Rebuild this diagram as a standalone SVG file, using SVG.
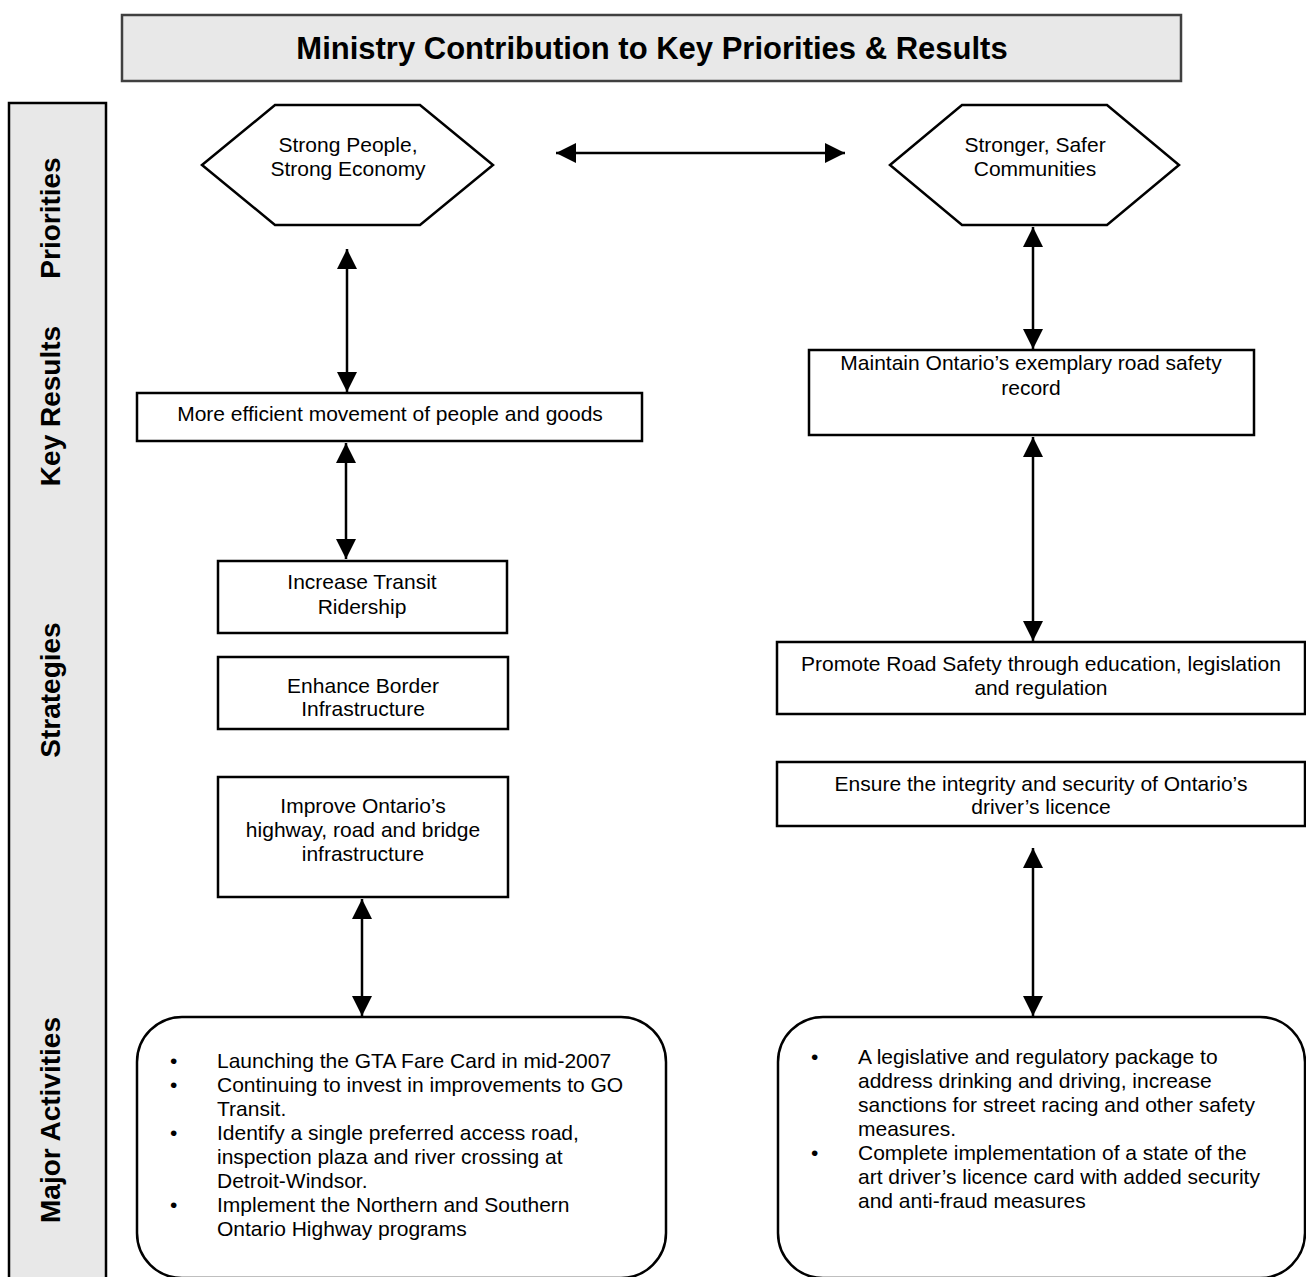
<svg xmlns="http://www.w3.org/2000/svg" width="1306" height="1277" viewBox="0 0 1306 1277">
<style>
.box{fill:#fff;stroke:#000;stroke-width:2.5}
.band{fill:#e8e8e8;stroke:#000;stroke-width:2.5}
.t{font-family:"Liberation Sans",Arial,sans-serif;font-size:21px;fill:#000}
.c{text-anchor:middle}
.lbl{font-family:"Liberation Sans",Arial,sans-serif;font-size:28px;font-weight:bold;fill:#000;text-anchor:middle}
.ttl{font-family:"Liberation Sans",Arial,sans-serif;font-size:31px;font-weight:bold;fill:#000;text-anchor:middle}
.conn{stroke:#000;stroke-width:2.5;fill:none;marker-start:url(#ah);marker-end:url(#ah)}
</style>
<defs>
<marker id="ah" viewBox="0 0 20 20" refX="20" refY="10" markerWidth="20" markerHeight="20" markerUnits="userSpaceOnUse" orient="auto-start-reverse">
<path d="M0,0 L20,10 L0,20 z" fill="#000"/>
</marker>
</defs>
<rect width="1306" height="1277" fill="#fff"/>

<g id="title">
<rect x="122" y="15" width="1059" height="66" fill="#e8e8e8" stroke="#404040" stroke-width="2.5"/>
<text class="ttl" x="652" y="59">Ministry Contribution to Key Priorities &amp; Results</text>
</g>

<g id="sidebar">
<rect class="band" x="9" y="103" width="97" height="1190"/>
<text class="lbl" transform="translate(60,218) rotate(-90)">Priorities</text>
<text class="lbl" transform="translate(60,406) rotate(-90)">Key Results</text>
<text class="lbl" transform="translate(60,690) rotate(-90)">Strategies</text>
<text class="lbl" transform="translate(60,1120) rotate(-90)">Major Activities</text>
</g>

<g id="connectors">
<line class="conn" x1="556" y1="153" x2="845" y2="153"/>
<line class="conn" x1="347" y1="249" x2="347" y2="392"/>
<line class="conn" x1="346" y1="443" x2="346" y2="559"/>
<line class="conn" x1="362" y1="899" x2="362" y2="1016"/>
<line class="conn" x1="1033" y1="227" x2="1033" y2="349"/>
<line class="conn" x1="1033" y1="437" x2="1033" y2="641"/>
<line class="conn" x1="1033" y1="848" x2="1033" y2="1016"/>
</g>

<g id="priority-economy">
<polygon class="box" points="202,165 275,105 420,105 493,165 420,225 275,225"/>
<text class="t c" x="348" y="152">Strong People,</text>
<text class="t c" x="348" y="176">Strong Economy</text>
</g>

<g id="priority-communities">
<polygon class="box" points="890,165 962,105 1107,105 1179,165 1107,225 962,225"/>
<text class="t c" x="1035" y="152">Stronger, Safer</text>
<text class="t c" x="1035" y="176">Communities</text>
</g>

<g id="result-movement">
<rect class="box" x="137" y="393" width="505" height="48"/>
<text class="t c" x="390" y="421">More efficient movement of people and goods</text>
</g>

<g id="result-safety">
<rect class="box" x="809" y="350" width="445" height="85"/>
<text class="t c" x="1031" y="370">Maintain Ontario’s exemplary road safety</text>
<text class="t c" x="1031" y="395">record</text>
</g>

<g id="strategy-transit">
<rect class="box" x="218" y="561" width="289" height="72"/>
<text class="t c" x="362" y="589">Increase Transit</text>
<text class="t c" x="362" y="614">Ridership</text>
</g>

<g id="strategy-border">
<rect class="box" x="218" y="657" width="290" height="72"/>
<text class="t c" x="363" y="693">Enhance Border</text>
<text class="t c" x="363" y="716">Infrastructure</text>
</g>

<g id="strategy-highway">
<rect class="box" x="218" y="777" width="290" height="120"/>
<text class="t c" x="363" y="813">Improve Ontario’s</text>
<text class="t c" x="363" y="837">highway, road and bridge</text>
<text class="t c" x="363" y="861">infrastructure</text>
</g>

<g id="strategy-road-safety">
<rect class="box" x="777" y="642" width="528" height="72"/>
<text class="t c" x="1041" y="671">Promote Road Safety through education, legislation</text>
<text class="t c" x="1041" y="695">and regulation</text>
</g>

<g id="strategy-licence">
<rect class="box" x="777" y="762" width="528" height="64"/>
<text class="t c" x="1041" y="791">Ensure the integrity and security of Ontario’s</text>
<text class="t c" x="1041" y="814">driver’s licence</text>
</g>

<g id="activities-left">
<rect class="box" x="137" y="1017" width="529" height="261" rx="45" ry="45"/>
<text class="t" x="170" y="1068">•</text><text class="t" x="217" y="1068">Launching the GTA Fare Card in mid-2007</text>
<text class="t" x="170" y="1092">•</text><text class="t" x="217" y="1092">Continuing to invest in improvements to GO</text>
<text class="t" x="217" y="1116">Transit.</text>
<text class="t" x="170" y="1140">•</text><text class="t" x="217" y="1140">Identify a single preferred access road,</text>
<text class="t" x="217" y="1164">inspection plaza and river crossing at</text>
<text class="t" x="217" y="1188">Detroit-Windsor.</text>
<text class="t" x="170" y="1212">•</text><text class="t" x="217" y="1212">Implement the Northern and Southern</text>
<text class="t" x="217" y="1236">Ontario Highway programs</text>
</g>

<g id="activities-right">
<rect class="box" x="778" y="1017" width="527" height="261" rx="45" ry="45"/>
<text class="t" x="811" y="1064">•</text><text class="t" x="858" y="1064">A legislative and regulatory package to</text>
<text class="t" x="858" y="1088">address drinking and driving, increase</text>
<text class="t" x="858" y="1112">sanctions for street racing and other safety</text>
<text class="t" x="858" y="1136">measures.</text>
<text class="t" x="811" y="1160">•</text><text class="t" x="858" y="1160">Complete implementation of a state of the</text>
<text class="t" x="858" y="1184">art driver’s licence card with added security</text>
<text class="t" x="858" y="1208">and anti-fraud measures</text>
</g>
</svg>
